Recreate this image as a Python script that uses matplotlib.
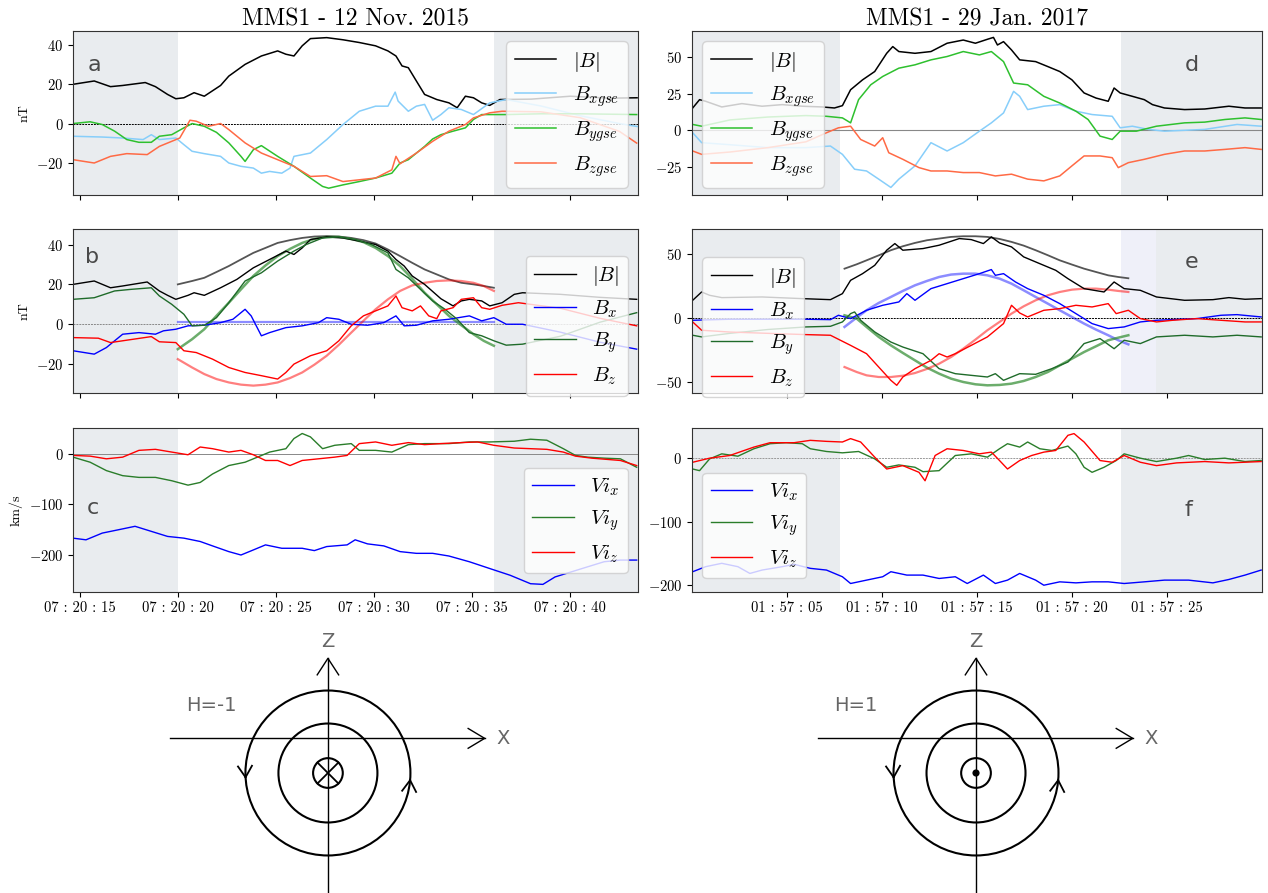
import numpy as np
import matplotlib
matplotlib.use('Agg')
import matplotlib.pyplot as plt
from matplotlib.patches import Circle
from matplotlib.ticker import FuncFormatter, FixedLocator

plt.rcParams['font.family'] = 'serif'
plt.rcParams['font.serif'] = ['cmr10']
plt.rcParams['mathtext.fontset'] = 'cm'
plt.rcParams['axes.formatter.use_mathtext'] = True

# ---------------- data, seconds after 07:20:00 (left) / 01:57:00 (right) ----------------
# panel a : GSE field
a_B_t = [14.65,15.73,16.56,17.18,18.33,18.85,19.47,19.89,20.30,20.82,21.34,22.17,22.59,23.42,24.25,25.08,25.50,25.91,26.33,26.75,
         27.58,28.41,29.24,30.07,30.70,31.11,31.42,31.74,32.15,32.57,33.19,33.81,34.23,34.65,35.06,35.48,35.89,36.41,38.0,40.0,42.0,43.4]
a_B = [20.1,21.8,18.9,19.5,21.0,18.9,14.9,12.7,13.2,15.8,14.0,19.5,24.3,30.3,34.6,37.2,35.5,34.6,39.8,43.5,
       44.0,42.9,41.5,39.8,37.2,34.6,29.5,28.6,21.8,14.9,12.3,10.6,8.1,14.0,13.2,10.6,9.3,12.3,12.5,14.0,13.0,13.2]
a_Bx_t = [14.65,16.14,17.18,18.22,18.64,19.05,19.89,20.30,20.72,21.34,22.17,22.59,23.21,23.84,24.25,24.67,25.29,25.71,25.91,26.75,
          27.58,28.41,29.24,30.07,30.70,31.07,31.22,31.74,32.15,32.57,32.98,33.40,33.81,34.44,35.06,35.89,36.73,38.5,40.5,42.5,43.4]
a_Bx = [-6.5,-6.9,-7.4,-8.2,-5.7,-8.2,-7.4,-10.8,-14.2,-15.4,-16.8,-20.2,-21.9,-22.8,-25.4,-24.5,-25.4,-22.8,-16.8,-15.1,
        -8.2,-0.5,6.3,8.9,8.9,16.1,11.5,6.3,8.9,9.8,1.7,4.6,8.1,7.2,4.6,10.6,12.3,9,4,0,-1.5]
a_By_t = [14.65,15.52,16.14,16.77,17.39,18.01,18.64,19.05,19.68,20.30,20.72,21.34,21.96,22.59,23.21,23.42,23.84,24.25,25.08,25.91,
          26.75,27.37,27.68,28.41,29.24,30.07,30.90,31.32,31.74,32.57,32.98,33.40,34.02,34.65,35.06,35.48,36.10,36.73,38.5,40.5,43.38]
a_By = [0,0.9,-0.5,-3.9,-8.2,-9.6,-9.6,-6.5,-5.7,-2.2,0,-1.4,-4.5,-9.9,-16.8,-19.4,-13.4,-11.3,-16.8,-21.9,
        -27.9,-32.2,-33.1,-31.4,-29.7,-27.9,-25.4,-20.2,-18.5,-11.7,-7.9,-5.7,-3.9,-2.2,2.1,4.6,4.6,4.6,5,5,4.6]
a_Bz_t = [14.65,15.73,16.56,17.39,18.43,19.05,19.68,20.09,20.61,20.93,21.55,22.17,22.59,23.42,24.25,25.08,25.91,26.75,27.58,28.41,
          29.24,30.07,30.90,31.11,31.32,32.15,32.98,33.81,34.65,35.06,35.89,36.52,38.5,40.5,42.5,43.38]
a_Bz = [-18.5,-20.2,-16.8,-15.4,-15.9,-11.7,-9.1,-7.4,1.7,1.2,-1.4,0,-3.1,-9.9,-15.1,-18.5,-21.9,-27.1,-26.7,-29.7,
        -28.8,-27.9,-23.7,-16.8,-20.6,-15.1,-9.1,-3.9,-0.5,2.9,5.5,6.3,6,3,-4,-10]

# panel b : local frame field + model
b_B_t = [14.65,15.73,16.56,17.18,18.43,19.05,19.47,19.89,20.51,20.82,21.34,22.17,23.00,23.84,24.67,25.50,25.91,26.33,26.75,27.58,
         28.41,29.24,30.07,30.70,31.11,31.53,31.94,32.57,33.40,34.02,34.44,34.85,35.48,35.89,36.52,37.14,37.56,39.5,41.5,43.38]
b_B = [20,21.7,18.3,19.2,21.2,16.7,14.5,12.5,14.5,15.8,14.5,18.3,22.5,28.3,32.5,36.7,35,38.3,42.5,43.8,
       43.3,41.7,40,36.7,32.5,29.2,24.2,20,12.8,9.2,11.7,12.5,11.7,9.2,10.8,15,15.8,15,13.5,12.5]
b_Bx_t = [14.65,15.73,16.35,17.18,18.01,18.85,19.26,19.89,20.51,21.34,22.17,22.80,23.42,23.73,24.25,24.67,25.50,26.33,27.16,27.58,
          28.20,28.83,29.66,30.49,31.11,31.53,32.15,32.98,33.81,34.85,35.48,36.10,36.73,37.56,39.5,41.5,43.38]
b_Bx = [-13.3,-15,-11.7,-5,-4.2,-5,-3.3,-2.5,-0.8,-0.5,0.8,2.5,7.5,4.2,-5.8,-4.2,-1.7,-0.8,0.8,3.3,
        2.5,0,-0.5,0.8,4.2,-0.8,-0.5,1.7,2.5,4.2,1.7,3.3,0,0,-4,-9,-12.5]
b_By_t = [14.65,15.73,16.77,17.60,18.64,19.05,19.68,20.30,20.72,21.34,21.96,22.59,23.42,24.25,25.08,25.91,26.54,27.37,28.20,29.03,
          29.86,30.70,31.11,31.74,32.36,32.98,33.61,34.23,34.85,35.48,36.10,36.73,37.56,39.5,41.5,43.38]
b_By = [12.5,13.3,16.7,17.5,18.3,14.2,10,5,-0.8,-0.5,3.3,10.8,21.7,25.8,31.7,36.7,40,43.3,43.8,42.5,
        40,35.8,27.5,23.3,17.5,11.7,7.5,2.5,-4.2,-5.8,-8.3,-10.5,-10,-6,1,5.8]
b_Bz_t = [14.65,15.94,16.56,17.18,18.64,19.05,19.89,20.30,20.93,21.76,22.59,23.42,24.25,25.08,25.50,25.91,26.75,27.58,28.20,28.83,
          29.45,30.07,30.70,31.11,31.42,31.94,32.36,32.78,33.19,33.40,34.02,34.44,35.06,35.48,35.89,36.52,37.35,39.5,41.5,43.38]
b_Bz = [-6.7,-7,-9.2,-8.3,-6.2,-8.8,-9.2,-13.3,-14.2,-17.5,-21.7,-24.2,-25.8,-27.5,-24.2,-20,-15.8,-13.3,-8.3,-0.8,
        4.2,6.7,9.2,14.2,8.3,6.7,9.2,4.2,2.8,6.7,8.3,12.5,13.3,8.3,7.5,9.5,10.8,8,3,-0.8]
b_fit_t = [19.99,20.72,21.34,21.96,22.59,23.21,23.84,24.46,25.08,25.71,26.33,26.95,27.58,28.20,28.83,29.45,30.07,30.70,31.32,31.94,
           32.57,33.19,33.81,34.44,35.06,35.58,36.10]
b_fit_B = [20,21.7,23.3,26.2,29.2,32.5,35.8,38.3,40.8,42.2,43.3,44,44.2,44,43.3,42.2,40.5,37.5,34.2,30.8,27.5,25,22.5,20.8,20,19.2,18.3]
b_fit_By = [-12.5,-7.5,-2.5,4.2,10.8,17.5,24.2,29.5,34.2,37.8,40.8,42.8,43.8,43.8,42.8,41.2,38.3,34.2,29.2,22.8,15.8,10,4.2,-0.5,-5,-8.3,-10.8]
b_fit_Bz = [-17.5,-21.7,-25,-27.5,-29.2,-30.3,-30.8,-30.3,-29.2,-27,-24.2,-20.3,-15.8,-10.3,-4.2,1.7,7.5,12.5,16.7,19.5,20.8,21.7,22,21.7,20.8,19.2,16.7]
b_fit_Bx_t = [19.99, 36.10]
b_fit_Bx = [1.0, 1.0]

# panel c : ion velocity
c_Vx_t = [14.65,15.31,16.14,16.98,17.81,18.64,19.47,20.30,21.13,21.76,22.59,23.21,23.84,24.46,25.29,26.33,26.95,27.58,28.62,29.03,
          29.66,30.49,31.32,32.15,32.98,33.81,34.85,35.89,36.93,37.97,38.60,39.22,40.05,40.88,41.72,42.55,43.38]
c_Vx = [-166.7,-170,-156.7,-150,-143.3,-153.3,-163.3,-166.7,-173.3,-182,-193.3,-200,-190,-180,-186.7,-186.7,-191.3,-183.3,-180,-170,
        -178,-182,-193.3,-196.7,-196.7,-202,-213.3,-226.7,-240,-256.7,-258,-243.3,-233.3,-223.3,-213.3,-210,-210]
c_Vy_t = [14.65,15.52,16.35,17.18,18.01,18.85,19.68,20.51,21.13,21.76,22.59,23.42,24.05,24.67,25.50,25.91,26.33,26.75,27.37,27.99,
          28.83,29.24,30.07,30.90,31.74,32.57,33.81,34.85,35.89,37.14,37.97,38.80,39.64,40.26,40.88,41.72,42.55,43.38]
c_Vy = [-6.7,-16.7,-33.3,-43.3,-46.7,-46.7,-53.3,-62,-56.7,-40,-23.3,-16.7,-6.7,3.3,10,30,40,33.3,10,16.7,
        20,6.7,6.7,3.3,18,20,20,23.3,23.3,24.7,28.7,26.7,10,-3.3,-6.7,-8.7,-10,-26.7]
c_Vz_t = [14.65,15.52,16.35,17.18,18.01,18.85,19.68,20.51,21.13,21.76,22.59,23.21,23.84,24.46,25.08,25.71,26.33,27.16,27.99,28.62,
          29.24,30.07,30.90,31.74,32.57,33.40,34.44,35.27,36.10,37.14,37.97,38.80,39.64,40.26,41.09,42.55,43.38]
c_Vz = [-3.3,-4.7,-10,-6.7,6.7,8.7,3.3,-2,13.3,10,3.3,6.7,-2,-13.3,-13.3,-23.3,-13.3,-10,-6.7,-3.3,
        20,23.3,16.7,22,18,20,22,23.3,16.7,11.3,10,8.7,3.3,-4.7,-8.7,-13.3,-23.3]

# panel d : GSE field
d_B_t = [0.04,0.40,0.72,1.57,2.63,3.69,4.75,5.81,6.86,7.50,7.92,8.35,8.98,9.62,10.25,10.57,10.89,11.74,12.58,13.43,
         14.28,14.92,15.55,15.87,16.08,16.40,16.82,17.25,18.09,18.73,19.36,20.00,20.64,21.27,21.91,22.22,22.54,23.18,23.81,24.24,
         24.87,25.93,26.99,28.26,29.11,29.96]
d_B = [15.2,20.9,19.8,15.9,18.2,16.4,17.5,16.4,15.9,15.2,16.8,27.7,34.5,40.2,52.7,57.3,53.9,52.7,53.9,59.6,
       61.8,59.6,62.3,63.6,58.4,60.7,55,48.2,47,43.6,40.2,34.5,25.5,22,19.8,28.9,25.5,23.2,20.9,17.5,
       15.2,14.1,14.5,16.4,15.2,15.2]
d_Bx_t = [0.04,0.51,2.0,4.0,6.0,7.29,7.92,8.56,9.19,9.83,10.47,10.89,11.74,12.58,13.43,14.28,15.13,15.76,16.40,16.93,
          17.25,17.67,18.52,19.36,20.21,21.06,22.12,22.54,23.18,24.03,24.87,26.99,28.69,29.96]
d_Bx = [-1.8,-8.6,-10,-12,-12,-10.9,-16.6,-26.8,-28,-33.6,-39.3,-33.6,-24.5,-8.6,-14.3,-8.6,-0.7,5,11.8,26.6,
        23.2,14.1,16.4,17.5,13,10.7,9.5,1.6,2.7,0.5,-0.7,0.5,3.9,2.7]
d_By_t = [0.04,0.51,2.0,4.0,6.0,7.08,7.92,8.35,8.77,9.41,10.04,10.89,11.74,12.58,13.43,14.28,15.13,15.76,16.40,16.93,
          17.67,18.52,19.36,20.21,20.85,21.48,22.12,22.54,23.39,24.45,25.93,26.99,28.05,29.11,29.96]
d_By = [3.9,2.7,7,9,10,9.5,8.4,5,20.9,31.1,36.8,42.5,44.8,48.2,50.5,53.9,51.6,53.9,47,32.3,
        31.1,23.2,18.6,13,7.3,-4.1,-6.4,-0.7,-0.7,2.7,5,5.5,7.3,8.4,7.3]
d_Bz_t = [0.04,0.51,2.0,4.0,6.0,7.08,7.71,8.35,8.88,9.62,10.04,10.36,11.10,11.95,12.58,13.43,14.28,15.13,15.97,16.82,
          17.67,18.52,19.36,20.00,20.64,21.48,22.12,22.44,22.97,23.81,24.87,25.93,26.99,28.05,29.11,29.96]
d_Bz = [-14.3,-16.6,-15,-12,-8,-1.8,1.6,2.7,-6.4,-10.9,-5.2,-15.5,-20,-25.7,-28,-28,-29.1,-29.1,-31.4,-30.2,
        -33.6,-34.8,-31.4,-24.5,-17.7,-17.7,-18.9,-25.7,-22.3,-20,-16.6,-14.3,-14.3,-13.2,-12,-13.2]

# panel e : local frame field + model
e_B_t = [0.04,0.51,0.93,1.57,3.69,5.81,7.29,7.92,8.35,8.98,9.62,10.25,10.68,11.10,12.16,13.01,14.07,14.70,15.34,15.76,
         16.19,16.82,17.46,18.31,19.15,19.79,20.64,21.69,22.22,22.75,23.60,24.45,25.93,27.42,28.26,29.11,29.96]
e_B = [13.8,20.3,17.7,15.9,16.4,15.1,14.3,19,29.4,34.6,41.1,52.9,58.1,52.9,54.2,56.8,62,61.2,58.1,63.3,
       58.6,55.5,47.7,42.4,37.2,30.7,22.9,20.3,28.1,22.9,21.6,16.4,13.8,14.3,15.9,14.6,15.1]
e_Bx_t = [0.04,2.0,4.0,6.0,7.29,7.71,8.35,9.19,10.04,10.89,11.31,11.74,12.58,13.43,14.28,15.13,15.76,15.97,16.40,17.03,
          17.67,18.52,19.36,20.21,21.06,21.91,22.75,23.60,24.45,25.30,26.57,27.84,28.69,29.96]
e_Bx = [-1.8,-1,-1,-1,-1.3,2.1,-0.5,6,9.9,12.5,19,13.8,22.9,26.8,30.7,34.6,37.8,33.3,34.6,28.1,
        22.9,17.7,11.2,3.4,-4.4,-8.3,-7,-3.1,-1.8,-1.3,-0.5,2.1,2.6,0.8]
e_By_t = [0.04,0.51,2.0,4.0,6.0,7.29,7.92,8.35,8.56,8.88,9.62,10.47,11.10,12.16,13.01,13.86,14.70,15.55,15.97,16.40,
          17.25,18.09,18.94,19.79,20.64,21.48,22.22,22.75,23.60,24.45,25.93,27.42,28.69,29.96]
e_By = [-13.5,-14.8,-12,-9,-7,-6.5,-3.1,3.4,4.7,-1.8,-10.9,-18.8,-22.7,-27.9,-39.6,-43.5,-44.8,-46.1,-43.5,-48.7,
        -43.5,-44,-39.6,-34.4,-20,-16.1,-24,-17.4,-20,-14.8,-13.5,-14.8,-13.5,-14.8]
e_Bz_t = [0.04,0.51,2.0,4.0,6.0,7.29,8.35,9.19,9.83,10.47,10.78,11.10,11.74,12.58,13.01,13.43,13.86,14.70,15.55,16.40,
          16.82,17.25,17.67,18.52,19.36,20.21,21.06,21.91,22.33,22.97,23.60,24.45,25.30,26.57,27.84,29.11,29.96]
e_Bz = [-3.1,-9.6,-11,-12,-13,-13.5,-21.4,-27.9,-38.3,-48.7,-52.6,-46.1,-39.6,-33.1,-27.9,-30.5,-27.9,-21.4,-14.8,-4.4,
        9.9,3.9,0.8,6,7.3,9.9,8.6,11.2,3.4,6,-0.5,-3.1,-1.8,-0.5,-1.8,-3.1,-3.1]
e_fit_t = [8.03,8.67,9.19,9.83,10.47,11.10,11.74,12.37,13.01,13.64,14.28,14.92,15.55,16.19,16.82,17.46,18.09,18.73,19.36,20.00,
           20.64,21.27,21.91,22.44,22.97]
e_fit_B = [38.5,41.9,45,48.9,52.9,56,58.6,60.7,62,63.3,63.8,63.8,63.3,61.7,59.4,56.5,52.9,49,45,41.7,38.5,35.9,33.3,32,31]
e_fit_Bx = [-7,0.3,6,11.7,16.4,21.1,25.5,28.9,32,33.9,34.6,34.6,33.3,30.7,26.8,21.6,16.4,11.2,6,0.8,-4.4,-9.1,-13.5,-17.4,-20.6]
e_fit_By = [2.1,-0.5,-7,-14.8,-21.4,-27.3,-33.1,-38.8,-43.5,-47.4,-50,-51.8,-52.6,-52.3,-51.3,-49.2,-46.1,-42.2,-37,-31.8,
            -26.6,-22.1,-17.4,-15.4,-13.5]
e_fit_Bz = [-38.3,-42.2,-44.8,-46.1,-46.1,-45.1,-43,-39.8,-35.7,-30.5,-24,-16.9,-9.6,-3.1,3.4,9.1,13.8,17.7,20.3,22.1,
            22.9,22.9,22.1,21.1,20.3]

# panel f : ion velocity
f_Vx_t = [0.04,0.72,1.57,2.42,3.05,3.69,4.75,5.38,6.23,7.08,7.92,8.35,9.19,10.04,10.47,11.31,12.16,13.01,13.86,14.49,
          15.34,15.97,16.61,17.25,18.09,18.52,19.36,20.21,21.06,21.91,22.75,23.81,24.87,26.14,27.42,28.26,29.11,29.96]
f_Vx = [-178.8,-170.9,-165.6,-170.9,-181.5,-176.2,-170.9,-167.2,-173.5,-176.2,-186.7,-197.3,-192,-186.7,-178.8,-184.1,-184.1,-189.4,-186.7,-197.3,
        -184.1,-197.3,-192,-181.5,-192,-200,-194.7,-196.3,-194.7,-194.7,-197.3,-194.7,-192,-192,-196.3,-191,-184.1,-176.2]
f_Vy_t = [0.04,0.40,0.93,1.57,2.42,3.26,4.11,4.96,5.81,6.23,7.08,7.92,8.77,9.62,10.25,10.89,11.74,12.16,13.01,13.86,
          14.70,15.55,16.19,16.61,17.25,17.67,18.31,18.94,19.79,20.21,20.64,21.06,21.69,22.33,22.75,23.60,24.45,25.51,26.14,26.99,
          28.05,29.11,29.96]
f_Vy = [-17.5,-20.1,-1.6,6.3,2.6,14.3,22.2,23.8,22.2,14.3,10,7.9,10,-1.6,-14.8,-11.1,-14.8,-21.7,-20.1,3.7,
        6.3,1.1,14.3,22.2,16.9,24.9,14.3,11.6,18.5,6.3,-14.8,-22.7,-14.8,-4.2,6.3,-0.5,-5.8,-0.5,3.7,-2.6,
        -0.5,-5.8,-4.2]
f_Vz_t = [0.04,0.93,1.99,3.26,4.11,5.38,6.23,7.08,7.92,8.35,8.88,9.62,10.25,11.10,11.95,12.27,12.80,13.43,14.28,15.13,
          15.76,16.19,16.61,17.25,17.88,18.52,19.15,19.79,20.11,20.64,21.48,22.12,22.75,23.60,24.45,25.51,26.99,28.26,29.96]
f_Vz = [-6.9,-0.5,3.7,16.9,23.8,23.8,27.5,25.9,24.9,30.2,24.9,1.1,-17.5,-12.2,-22.7,-36,3.7,14.3,11.6,6.3,
        9,-4.2,-17.5,-4.2,3.7,9,11.6,35.4,38.1,24.9,-4.2,-6.9,3.7,-6.9,-12.2,-7.9,-5.8,-7.9,-5.8]

left_ticks = [15, 20, 25, 30, 35, 40]
right_ticks = [5, 10, 15, 20, 25]
left_shade = [(14.65, 20.0), (36.1, 43.45)]
right_shade = [(0.0, 7.8), (22.6, 30.0)]

# ---------------- layout ----------------
fig = plt.figure(figsize=(12.68, 8.93), dpi=100)
rows = [0.7816, 0.5599, 0.3371]
row_h = 0.1837
L = [fig.add_axes([0.0576, r, 0.4456, row_h]) for r in rows]
R = [fig.add_axes([0.5457, r, 0.4495, row_h]) for r in rows]

shade_col = '#e9ecef'


def base(ax, spans, xlim, ticks, fmt, ylim, yticks, show_x):
    for a, b in spans:
        ax.axvspan(a, b, color=shade_col, lw=0, zorder=0)
    ax.set_xlim(*xlim)
    ax.set_ylim(*ylim)
    ax.xaxis.set_major_locator(FixedLocator(ticks))
    ax.yaxis.set_major_locator(FixedLocator(yticks))
    ax.xaxis.set_major_formatter(FuncFormatter(fmt))
    ax.tick_params(labelsize=10.5, length=3.5)
    if not show_x:
        ax.tick_params(labelbottom=False)
    for s in ax.spines.values():
        s.set_color('#333333')


fmt_l = lambda s, p: '07 : 20 : %02d' % int(round(s))
fmt_r = lambda s, p: '01 : 57 : %02d' % int(round(s))

leg_kw = dict(fontsize=15, framealpha=0.8, edgecolor='#cccccc', handlelength=2.0)
lab_kw = dict(fontsize=16, family='DejaVu Sans', color='#4a4a4a', va='center')

# a
ax = L[0]
base(ax, left_shade, (14.65, 43.45), left_ticks, fmt_l, (-36.6, 47.4), [-20, 0, 20, 40], False)
ax.axhline(0, color='k', lw=0.7, ls=(0, (2, 1)), zorder=1)
ax.plot(a_B_t, a_B, color='k', lw=1.1, label=r'$|B|$')
ax.plot(a_Bx_t, a_Bx, color='#87cefa', lw=1.1, label=r'$B_{xgse}$')
ax.plot(a_By_t, a_By, color='#2ec02e', lw=1.1, label=r'$B_{ygse}$')
ax.plot(a_Bz_t, a_Bz, color='#ff6a45', lw=1.1, label=r'$B_{zgse}$')
ax.legend(loc='upper right', **leg_kw)
ax.set_ylabel('nT', fontsize=10)
ax.set_title('MMS1 - 12 Nov. 2015', fontsize=17, pad=4)
ax.text(0.025, 0.79, 'a', transform=ax.transAxes, **lab_kw)

# b
ax = L[1]
base(ax, left_shade, (14.65, 43.45), left_ticks, fmt_l, (-34.5, 47.8), [-20, 0, 20, 40], False)
ax.axhline(0, color='#888888', lw=0.7, ls=(0, (2, 1)), zorder=1)
ax.plot(b_fit_t, b_fit_B, color='#555555', lw=1.3, zorder=2)
ax.plot(b_fit_Bx_t, b_fit_Bx, color='blue', alpha=0.45, lw=1.6, zorder=2)
ax.plot(b_fit_t, b_fit_By, color='#2e8b2e', alpha=0.7, lw=1.8, zorder=2)
ax.plot(b_fit_t, b_fit_Bz, color='red', alpha=0.5, lw=1.6, zorder=2)
ax.plot(b_B_t, b_B, color='k', lw=1.0, label=r'$|B|$')
ax.plot(b_Bx_t, b_Bx, color='blue', lw=1.0, label=r'$B_x$')
ax.plot(b_By_t, b_By, color='#1f6b2a', lw=1.0, label=r'$B_y$')
ax.plot(b_Bz_t, b_Bz, color='red', lw=1.0, label=r'$B_z$')
ax.legend(loc='upper right', bbox_to_anchor=(1.0, 0.9), **leg_kw)
ax.set_ylabel('nT', fontsize=10)
ax.text(0.022, 0.83, 'b', transform=ax.transAxes, **lab_kw)

# c
ax = L[2]
base(ax, left_shade, (14.65, 43.45), left_ticks, fmt_l, (-273, 51), [-200, -100, 0], True)
ax.axhline(0, color='#888888', lw=0.7, zorder=1)
ax.plot(c_Vx_t, c_Vx, color='blue', lw=1.0, label=r'$Vi_x$')
ax.plot(c_Vy_t, c_Vy, color='#2a7d2a', lw=1.0, label=r'$Vi_y$')
ax.plot(c_Vz_t, c_Vz, color='red', lw=1.0, label=r'$Vi_z$')
ax.legend(loc='upper right', bbox_to_anchor=(1.0, 0.82), **leg_kw)
ax.set_ylabel('km/s', fontsize=10)
ax.text(0.025, 0.51, 'c', transform=ax.transAxes, **lab_kw)

# d
ax = R[0]
base(ax, right_shade, (0, 30), right_ticks, fmt_r, (-44.5, 68), [-25, 0, 25, 50], False)
ax.axhline(0, color='#888888', lw=0.8, zorder=1)
ax.plot(d_B_t, d_B, color='k', lw=1.1, label=r'$|B|$')
ax.plot(d_Bx_t, d_Bx, color='#87cefa', lw=1.1, label=r'$B_{xgse}$')
ax.plot(d_By_t, d_By, color='#2ec02e', lw=1.1, label=r'$B_{ygse}$')
ax.plot(d_Bz_t, d_Bz, color='#ff6a45', lw=1.1, label=r'$B_{zgse}$')
ax.legend(loc='upper left', **leg_kw)
ax.set_title('MMS1 - 29 Jan. 2017', fontsize=17, pad=4)
ax.text(0.865, 0.79, 'd', transform=ax.transAxes, **lab_kw)

# e
ax = R[1]
base(ax, [(0.0, 7.8), (24.4, 30.0)], (0, 30), right_ticks, fmt_r, (-58.6, 69.5), [-50, 0, 50], False)
ax.axvspan(22.6, 24.4, color='#eff0f9', lw=0, zorder=0)
ax.axhline(0, color='k', lw=0.7, ls=(0, (2, 1)), zorder=1)
ax.plot(e_fit_t, e_fit_B, color='#555555', lw=1.3, zorder=2)
ax.plot(e_fit_t, e_fit_Bx, color='blue', alpha=0.45, lw=1.8, zorder=2)
ax.plot(e_fit_t, e_fit_By, color='#2e8b2e', alpha=0.7, lw=1.8, zorder=2)
ax.plot(e_fit_t, e_fit_Bz, color='red', alpha=0.5, lw=1.6, zorder=2)
ax.plot(e_B_t, e_B, color='k', lw=1.0, label=r'$|B|$')
ax.plot(e_Bx_t, e_Bx, color='blue', lw=1.0, label=r'$B_x$')
ax.plot(e_By_t, e_By, color='#1f6b2a', lw=1.0, label=r'$B_y$')
ax.plot(e_Bz_t, e_Bz, color='red', lw=1.0, label=r'$B_z$')
ax.legend(loc='upper left', bbox_to_anchor=(0.0, 0.89), **leg_kw)
ax.text(0.865, 0.80, 'e', transform=ax.transAxes, **lab_kw)

# f
ax = R[2]
base(ax, right_shade, (0, 30), right_ticks, fmt_r, (-210.6, 47), [-200, -100, 0], True)
ax.axhline(0, color='#999999', lw=0.7, ls=(0, (2, 1)), zorder=1)
ax.plot(f_Vx_t, f_Vx, color='blue', lw=1.0, label=r'$Vi_x$')
ax.plot(f_Vy_t, f_Vy, color='#2a7d2a', lw=1.0, label=r'$Vi_y$')
ax.plot(f_Vz_t, f_Vz, color='red', lw=1.0, label=r'$Vi_z$')
ax.legend(loc='upper left', bbox_to_anchor=(0.0, 0.79), **leg_kw)
ax.text(0.865, 0.50, 'f', transform=ax.transAxes, **lab_kw)


# ---------------- helicity sketches ----------------
def chevron(ax, p, d, size=0.16, spread=32):
    d = np.asarray(d, float)
    d = d / np.hypot(*d)
    for s in (spread, -spread):
        a = np.deg2rad(s)
        back = -np.array([d[0] * np.cos(a) - d[1] * np.sin(a), d[0] * np.sin(a) + d[1] * np.cos(a)])
        ax.plot([p[0], p[0] + size * back[0]], [p[1], p[1] + size * back[1]], color='k', lw=1.3)


def sketch(rect, label, into_page):
    ax = fig.add_axes(rect)
    ax.set_xlim(-2.4, 2.45)
    ax.set_ylim(-1.455, 1.855)
    ax.axis('off')
    for r in (1.0, 0.6, 0.18):
        ax.add_patch(Circle((0, 0), r, fill=False, lw=1.5, color='k'))
    if into_page:
        ax.plot([-0.127, 0.127], [-0.127, 0.127], color='k', lw=1.3)
        ax.plot([-0.127, 0.127], [0.127, -0.127], color='k', lw=1.3)
    else:
        ax.add_patch(Circle((0, 0), 0.035, color='k'))
    ax.plot([-1.92, 1.9], [0.42, 0.42], color='k', lw=1.0)
    ax.plot([1.7, 1.9, 1.7], [0.54, 0.42, 0.30], color='k', lw=1.0)
    ax.plot([0, 0], [-1.46, 1.39], color='k', lw=1.0)
    ax.plot([-0.13, 0, 0.13], [1.19, 1.39, 1.19], color='k', lw=1.0)
    for ang in (183, -5):
        t = np.deg2rad(ang)
        chevron(ax, (np.cos(t), np.sin(t)), (-np.sin(t), np.cos(t)))
    tk = dict(family='DejaVu Sans', color='#666666', fontsize=14, va='center')
    ax.text(2.12, 0.42, 'X', ha='center', **tk)
    ax.text(0, 1.6, 'Z', ha='center', **tk)
    ax.text(-1.72, 0.82, label, ha='left', **tk)


sketch([0.1025, 0.0, 0.3155, 0.3057], 'H=-1', True)
sketch([0.6136, 0.0, 0.3155, 0.3057], 'H=1', False)

fig.savefig('out.png', dpi=100)
